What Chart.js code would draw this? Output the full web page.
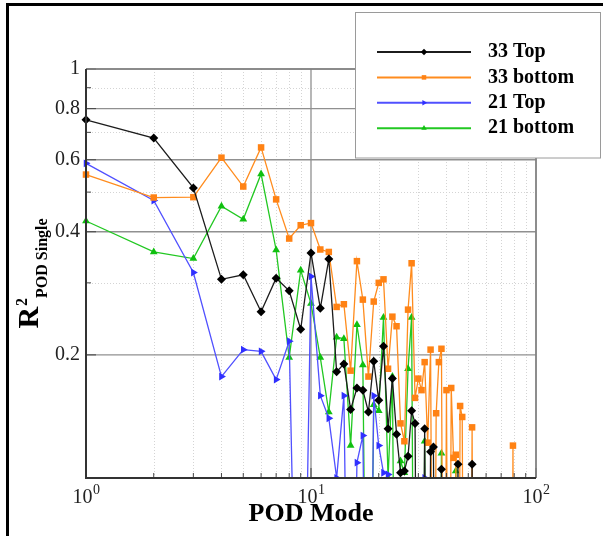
<!DOCTYPE html>
<html>
<head>
<meta charset="utf-8">
<script src="https://cdn.jsdelivr.net/npm/chart.js@4.4.1/dist/chart.umd.min.js"></script>
<style>
  html, body { margin: 0; padding: 0; background: #fff; }
  #wrap { position: relative; width: 603px; height: 536px; overflow: hidden; }
  #chart { position: absolute; left: 0; top: 0; }
  #edge { position: absolute; left: 6px; top: 3px; width: 800px; height: 800px;
          border-left: 3px solid #000; border-top: 3px solid #000; pointer-events: none; }
</style>
</head>
<body>
<div id="wrap">
  <canvas id="chart" width="603" height="536"></canvas>
  <div id="edge"></div>
</div>
<script>
// POD mode numbers (x) shared by all series
const modes = [1, 2, 3, 4, 5, 6, 7, 8, 9, 10, 11, 12, 13, 14, 15, 16, 17, 18, 19, 20,
  21, 22, 23, 24, 25, 26, 27, 28, 29, 30, 31, 32, 33, 34, 35, 36, 37, 38, 39, 40,
  41, 42, 43, 44, 45, 46, 47, 48, 49, 50, 51, 52, 53, 54, 55, 56, 57, 58, 59, 60,
  61, 62, 63, 64, 65, 66, 67, 68, 69, 70, 71, 72, 73, 74, 75, 76, 77, 78, 79, 80];

// R^2 values, one per mode (values under 0.1 fall below the axis)
const top33 = [0.751, 0.678, 0.512, 0.306, 0.314, 0.255, 0.308, 0.287, 0.231, 0.355,
  0.260, 0.343, 0.182, 0.190, 0.147, 0.166, 0.164, 0.145, 0.193, 0.155,
  0.210, 0.132, 0.175, 0.128, 0.103, 0.104, 0.113, 0.146, 0.136, 0.01,
  0.01, 0.132, 0.01, 0.116, 0.119, 0.01, 0.01, 0.105, 0.01, 0.01,
  0.01, 0.01, 0.01, 0.01, 0.108, 0.01, 0.01, 0.01, 0.01, 0.01,
  0.01, 0.108, 0.01];
const bottom33 = [0.552, 0.485, 0.486, 0.607, 0.516, 0.643, 0.480, 0.385, 0.415, 0.420,
  0.362, 0.357, 0.262, 0.266, 0.183, 0.339, 0.273, 0.177, 0.270, 0.300,
  0.306, 0.185, 0.248, 0.235, 0.136, 0.123, 0.258, 0.335, 0.157, 0.175,
  0.164, 0.192, 0.122, 0.206, 0.01, 0.144, 0.192, 0.207, 0.01, 0.164,
  0.01, 0.166, 0.112, 0.114, 0.01, 0.150, 0.141, 0.01, 0.01, 0.01,
  0.01, 0.133, 0.01, 0.01, 0.01, 0.01, 0.01, 0.01, 0.01, 0.01,
  0.01, 0.01, 0.01, 0.01, 0.01, 0.01, 0.01, 0.01, 0.01, 0.01,
  0.01, 0.01, 0.01, 0.01, 0.01, 0.01, 0.01, 0.01, 0.120, 0.01];
const top21 = [0.588, 0.477, 0.318, 0.177, 0.206, 0.204, 0.174, 0.216, 0.01, 0.311,
  0.159, 0.140, 0.100, 0.159, 0.01, 0.109, 0.127, 0.01, 0.159, 0.120,
  0.103, 0.102, 0.01, 0.01, 0.01, 0.01, 0.01, 0.01, 0.01, 0.01,
  0.01, 0.100, 0.01];
const bottom21 = [0.425, 0.357, 0.344, 0.462, 0.429, 0.554, 0.361, 0.197, 0.322, 0.267,
  0.197, 0.145, 0.221, 0.219, 0.120, 0.237, 0.189, 0.01, 0.151, 0.146,
  0.247, 0.100, 0.177, 0.01, 0.110, 0.103, 0.185, 0.247, 0.01, 0.01,
  0.01, 0.123, 0.01, 0.01, 0.01, 0.01, 0.01, 0.115, 0.01, 0.01,
  0.01, 0.01, 0.01, 0.104, 0.01];

const seriesNames = ['33 Top', '33 bottom', '21 Top', '21 bottom'];

// axis ticks (x labels are 10 with an exponent)
const xTickValues = [1, 10, 100];
const xTickExps = ['0', '1', '2'];
const yTickValues = [0.2, 0.4, 0.6, 0.8, 1];
const yTickLabels = ['0.2', '0.4', '0.6', '0.8', '1'];
const xMinor = [1, 2, 3, 4, 5, 6, 7, 8, 9, 10, 20, 30, 40, 50, 60, 70, 80, 90, 100];
const yMinor = [0.1, 0.2, 0.3, 0.4, 0.5, 0.6, 0.7, 0.8, 0.9, 1];

const serif = '"Liberation Serif", "Times New Roman", serif';

function pts(vals) {
  return vals.map((v, i) => ({ x: modes[i], y: v }));
}

// grid: dotted minor lines, solid major lines, inward ticks, frame
const gridLines = {
  id: 'gridLines',
  beforeDatasetsDraw(chart) {
    const { ctx, chartArea: a, scales: { x, y } } = chart;
    ctx.save();
    ctx.lineWidth = 1;
    ctx.setLineDash([1, 2]);
    ctx.strokeStyle = '#d4d4d4';
    xMinor.forEach(v => {
      if (xTickValues.includes(v)) return;
      const px = Math.round(x.getPixelForValue(v)) + 0.5;
      ctx.beginPath(); ctx.moveTo(px, a.top); ctx.lineTo(px, a.bottom); ctx.stroke();
    });
    yMinor.forEach(v => {
      if (yTickValues.includes(v)) return;
      const py = Math.round(y.getPixelForValue(v)) + 0.5;
      ctx.beginPath(); ctx.moveTo(a.left, py); ctx.lineTo(a.right, py); ctx.stroke();
    });
    ctx.setLineDash([]);
    ctx.strokeStyle = '#909090';
    ctx.lineWidth = 1.3;
    xTickValues.forEach(v => {
      const px = x.getPixelForValue(v);
      ctx.beginPath(); ctx.moveTo(px, a.top); ctx.lineTo(px, a.bottom); ctx.stroke();
    });
    yTickValues.forEach(v => {
      const py = y.getPixelForValue(v);
      ctx.beginPath(); ctx.moveTo(a.left, py); ctx.lineTo(a.right, py); ctx.stroke();
    });
    ctx.restore();
  },
  afterDatasetsDraw(chart) {
    const { ctx, chartArea: a, scales: { x, y } } = chart;
    ctx.save();
    ctx.strokeStyle = '#444';
    ctx.lineWidth = 1;
    yMinor.forEach(v => {
      const py = y.getPixelForValue(v);
      const len = yTickValues.includes(v) ? 10 : 5;
      ctx.beginPath(); ctx.moveTo(a.left, py); ctx.lineTo(a.left + len, py); ctx.stroke();
    });
    xMinor.forEach(v => {
      const px = x.getPixelForValue(v);
      const len = xTickValues.includes(v) ? 10 : 5;
      ctx.beginPath(); ctx.moveTo(px, a.bottom); ctx.lineTo(px, a.bottom - len); ctx.stroke();
    });
    ctx.strokeStyle = '#808080';
    ctx.lineWidth = 1.5;
    ctx.beginPath(); ctx.moveTo(a.left, a.top); ctx.lineTo(a.right, a.top); ctx.lineTo(a.right, a.bottom); ctx.stroke();
    ctx.strokeStyle = '#333';
    ctx.lineWidth = 2;
    ctx.beginPath(); ctx.moveTo(a.left, a.top); ctx.lineTo(a.left, a.bottom); ctx.lineTo(a.right, a.bottom); ctx.stroke();

    // x tick labels: 10 with raised exponent, centred on the tick
    ctx.fillStyle = '#222';
    ctx.textBaseline = 'alphabetic';
    xTickValues.forEach((v, i) => {
      const px = x.getPixelForValue(v);
      ctx.font = '20px ' + serif;
      const wBase = ctx.measureText('10').width;
      ctx.font = '14px ' + serif;
      const wExp = ctx.measureText(xTickExps[i]).width;
      const x0 = px - (wBase + wExp) / 2;
      ctx.font = '20px ' + serif;
      ctx.fillText('10', x0, a.bottom + 25);
      ctx.font = '14px ' + serif;
      ctx.fillText(xTickExps[i], x0 + wBase + 0.5, a.bottom + 16);
    });
    ctx.restore();
  }
};

// y title with superscript and subscript
const yTitle = {
  id: 'yTitle',
  afterDraw(chart) {
    const ctx = chart.ctx;
    const a = chart.chartArea;
    ctx.save();
    ctx.fillStyle = '#000';
    ctx.textBaseline = 'alphabetic';
    ctx.font = 'bold 30px ' + serif;
    const wR = ctx.measureText('R').width;
    ctx.font = 'bold 16px ' + serif;
    const w2 = ctx.measureText('2').width;
    ctx.font = 'bold 16px ' + serif;
    const wS = ctx.measureText('POD Single').width;
    const total = wR + w2 + 1 + wS;
    ctx.translate(38, (a.top + a.bottom) / 2);
    ctx.rotate(-Math.PI / 2);
    const x0 = -total / 2;
    ctx.font = 'bold 30px ' + serif;
    ctx.fillText('R', x0, 0);
    ctx.font = 'bold 16px ' + serif;
    ctx.fillText('2', x0 + wR + 1, -11);
    ctx.fillText('POD Single', x0 + wR + w2 + 1, 9);
    ctx.restore();
  }
};

// boxed legend with line + marker samples
const boxLegend = {
  id: 'boxLegend',
  afterDraw(chart) {
    const ctx = chart.ctx;
    ctx.save();
    ctx.fillStyle = '#fff';
    ctx.fillRect(355.5, 12.5, 245, 145.5);
    ctx.strokeStyle = '#9a9a9a';
    ctx.lineWidth = 1;
    ctx.strokeRect(355.5, 12.5, 245, 145.5);
    chart.data.datasets.forEach((ds, i) => {
      const yy = 52 + i * 25.4;
      ctx.strokeStyle = ds.borderColor;
      ctx.lineWidth = 2;
      ctx.beginPath(); ctx.moveTo(377, yy); ctx.lineTo(471, yy); ctx.stroke();
      ctx.fillStyle = ds.backgroundColor;
      Chart.helpers.drawPoint(ctx, { pointStyle: ds.pointStyle, rotation: ds.pointRotation || 0, radius: 3.2, borderWidth: 0 }, 424, yy);
      ctx.fillStyle = '#000';
      ctx.font = 'bold 20px ' + serif;
      ctx.textBaseline = 'middle';
      ctx.fillText(ds.label, 488, yy);
    });
    ctx.restore();
  }
};

const clipBox = { left: 10, top: 10, right: 10, bottom: 0 };

new Chart(document.getElementById('chart'), {
  type: 'line',
  data: {
    datasets: [
      { label: seriesNames[0], data: pts(top33), borderColor: '#1c1c1c', backgroundColor: '#000',
        pointStyle: 'rectRot', pointRadius: 4.5 },
      { label: seriesNames[1], data: pts(bottom33), borderColor: '#ff8c1e', backgroundColor: '#ff8214',
        pointStyle: 'rect', pointRadius: 4.6 },
      { label: seriesNames[2], data: pts(top21), borderColor: '#5050ff', backgroundColor: '#3030ff',
        pointStyle: 'triangle', pointRotation: 90, pointRadius: 4.5 },
      { label: seriesNames[3], data: pts(bottom21), borderColor: '#22c822', backgroundColor: '#10c010',
        pointStyle: 'triangle', pointRadius: 4.5 }
    ].map(d => Object.assign(d, { borderWidth: 1.3, pointBorderWidth: 0, tension: 0, clip: clipBox }))
  },
  options: {
    responsive: false,
    animation: false,
    layout: { padding: { top: 69, right: 67, left: 0, bottom: 0 } },
    plugins: { legend: { display: false }, tooltip: { enabled: false } },
    scales: {
      x: {
        type: 'logarithmic', min: 1, max: 100,
        grid: { display: false, drawTicks: false }, border: { display: false },
        afterBuildTicks: s => { s.ticks = xTickValues.map(v => ({ value: v })); },
        afterFit: s => { s.height = 58; },
        ticks: { display: false },
        title: { display: true, text: 'POD Mode', color: '#000',
                 font: { family: serif, size: 26, weight: 'bold' }, padding: { top: 0, bottom: 6 } }
      },
      y: {
        type: 'logarithmic', min: 0.1, max: 1,
        grid: { display: false, drawTicks: false }, border: { display: false },
        afterBuildTicks: s => { s.ticks = yTickValues.map(v => ({ value: v })); },
        afterFit: s => { s.width = 86; },
        ticks: { autoSkip: false, padding: 6, color: '#222',
                 font: { family: serif, size: 20 },
                 callback: (v, i) => yTickLabels[i] }
      }
    }
  },
  plugins: [gridLines, yTitle, boxLegend]
});
</script>
</body>
</html>
